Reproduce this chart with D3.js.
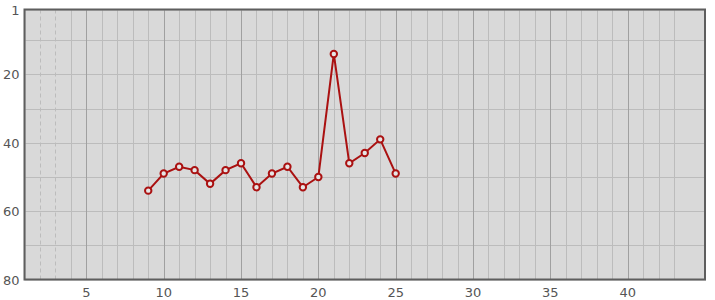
<!DOCTYPE html>
<html>
<head>
<meta charset="utf-8">
<script src="https://cdn.jsdelivr.net/npm/d3@7"></script>
<style>
  body { margin: 0; background: #fff; }
  text { font-family: "DejaVu Sans", sans-serif; }
</style>
</head>
<body>
<div id="chart"></div>
<script>
// data (x = position, y = rank)
var xs = [9, 10, 11, 12, 13, 14, 15, 16, 17, 18, 19, 20, 21, 22, 23, 24, 25];
var ranks = [54, 49, 47, 48, 52, 48, 46, 53, 49, 47, 53, 50, 14, 46, 43, 39, 49];
var xTicks = [5, 10, 15, 20, 25, 30, 35, 40];
var yTicks = [1, 20, 40, 60, 80];
var yGrid = [10, 20, 30, 40, 50, 60, 70];
var xDashed = [2, 3];
var xGrid = d3.range(4, 44);

var width = 715, height = 300;
var margin = { top: 10, right: 10, bottom: 20, left: 25 };

var svg = d3.select("#chart")
    .append("svg")
    .attr("width", width)
    .attr("height", height);

var x = d3.scaleLinear().domain([1, 45]).range([margin.left - 0.5, width - margin.right]);
var y = d3.scaleLinear().domain([1, 80]).range([margin.top - 0.5, height - margin.bottom - 0.5]);

var x0 = x(1), x1 = x(45), y0 = y(1), y1 = y(80);

// background
svg.append("rect")
    .attr("x", x0).attr("y", y0)
    .attr("width", x1 - x0).attr("height", y1 - y0)
    .attr("fill", "#d9d9d9");

// horizontal grid
svg.selectAll(".hgrid")
    .data(yGrid)
    .enter().append("line")
    .attr("x1", x0).attr("x2", x1)
    .attr("y1", d => Math.round(y(d)) + 0.5)
    .attr("y2", d => Math.round(y(d)) + 0.5)
    .attr("stroke", "#bcbcbc");

// vertical grid
svg.selectAll(".vgrid")
    .data(xGrid)
    .enter().append("line")
    .attr("x1", d => Math.round(x(d)) + 0.5)
    .attr("x2", d => Math.round(x(d)) + 0.5)
    .attr("y1", y0).attr("y2", y1)
    .attr("stroke", d => d % 5 === 0 ? "#a0a0a0" : "#bcbcbc");

svg.selectAll(".dgrid")
    .data(xDashed)
    .enter().append("line")
    .attr("x1", d => Math.round(x(d)) + 0.5)
    .attr("x2", d => Math.round(x(d)) + 0.5)
    .attr("y1", y0).attr("y2", y1)
    .attr("stroke", "#bcbcbc")
    .attr("stroke-dasharray", "4,3");

// frame
svg.append("rect")
    .attr("x", x0 + 0.5).attr("y", y0 + 0.5)
    .attr("width", x1 - x0).attr("height", y1 - y0)
    .attr("fill", "none")
    .attr("stroke", "#b5b5b5");
svg.append("rect")
    .attr("x", x0).attr("y", y0)
    .attr("width", x1 - x0).attr("height", y1 - y0)
    .attr("fill", "none")
    .attr("stroke", "#5e5e5e")
    .attr("stroke-width", 2);

// tick labels
svg.selectAll(".ylab")
    .data(yTicks)
    .enter().append("text")
    .attr("x", x0 - 5)
    .attr("y", d => y(d) + 5)
    .attr("text-anchor", "end")
    .attr("font-size", "13px")
    .attr("fill", "#555")
    .text(d => d);

svg.selectAll(".xlab")
    .data(xTicks)
    .enter().append("text")
    .attr("x", d => x(d))
    .attr("y", y1 + 17)
    .attr("text-anchor", "middle")
    .attr("font-size", "13px")
    .attr("fill", "#555")
    .text(d => d);

// line
var pts = xs.map((d, i) => [d, ranks[i]]);
svg.append("path")
    .datum(pts)
    .attr("fill", "none")
    .attr("stroke", "#aa1111")
    .attr("stroke-width", 2)
    .attr("d", d3.line().x(d => x(d[0])).y(d => y(d[1])));

svg.selectAll(".pt")
    .data(pts)
    .enter().append("circle")
    .attr("cx", d => x(d[0]))
    .attr("cy", d => y(d[1]))
    .attr("r", 3.2)
    .attr("fill", "#e6e6e6")
    .attr("stroke", "#aa1111")
    .attr("stroke-width", 2);
</script>
</body>
</html>
